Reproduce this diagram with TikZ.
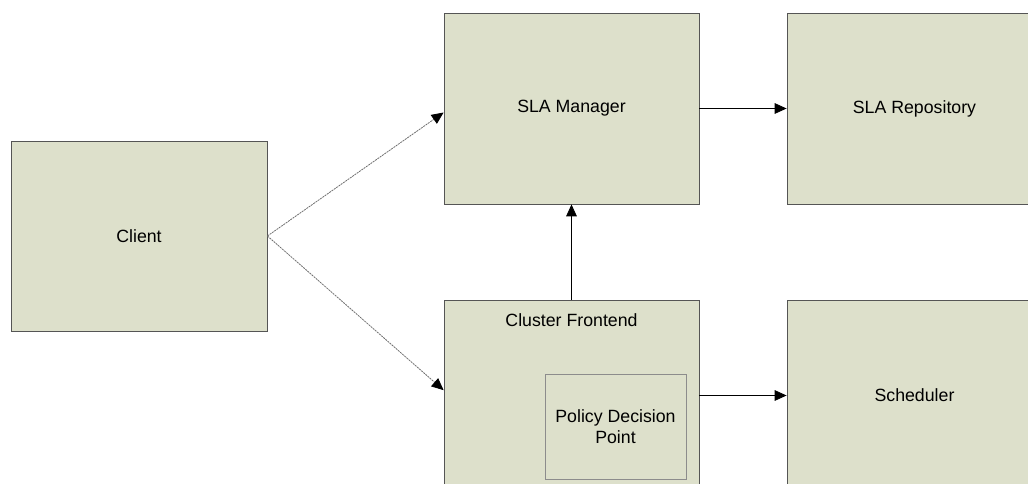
\documentclass[tikz,border=0pt]{standalone}
\usepackage{fontspec}
\setmainfont{Liberation Sans}
\usetikzlibrary{arrows.meta}
\definecolor{boxfill}{RGB}{221, 224, 203}
\definecolor{boxline}{RGB}{85, 85, 85}
\definecolor{linkgray}{RGB}{110, 110, 110}

\begin{document}
\begin{tikzpicture}[x=0.75pt, y=-0.75pt,
    block/.style={draw=boxline, fill=boxfill, line width=0.6pt, inner sep=0pt,
        font=\fontsize{13.3}{16}\selectfont},
    flow/.style={-{Triangle[length=9pt, width=8pt]}, line width=0.6pt},
    request/.style={-{Triangle[length=9pt, width=8pt, color=black]}, line width=0.6pt,
        draw=linkgray, dash pattern=on 1.5pt off 0.6pt}]
    \useasboundingbox (0,0) rectangle (1028,484);
    \clip (0,0) rectangle (1028,484);

    % Client
    \node[block, minimum width=192pt, minimum height=142.5pt] (client) at (139,236) {Client};

    % SLA Manager / SLA Repository
    \node[block, minimum width=191.25pt, minimum height=143.25pt] (manager) at (571.5,108.5) {SLA Manager};
    \node[block, minimum width=191.25pt, minimum height=143.25pt] (repo) at (914.5,108.5) {SLA Repository};

    % Cluster Frontend
    \node[block, minimum width=191.25pt, minimum height=143.25pt] (cluster) at (571.5,395.5) {};
    \node[anchor=north, font=\fontsize{13.3}{16}\selectfont] (clustertitle) at ([yshift=-7pt]cluster.north) {Cluster Frontend};
    \node[block, draw=black!45, align=center, minimum width=105.75pt, minimum height=78.75pt] (pdp) at (615.5,426.5) {Policy Decision\\Point};

    % Scheduler
    \node[block, minimum width=191.25pt, minimum height=143.25pt] (sched) at (914.5,395.5) {Scheduler};

    % Frecce
    \draw[request] (client.east) -- ([yshift=-3pt]manager.west);
    \draw[request] (client.east) -- ([yshift=4pt]cluster.west);
    \draw[flow] (manager.east) -- (repo.west);
    \draw[flow] (cluster.north) -- (manager.south);
    \draw[flow] (cluster.east) -- (sched.west);
\end{tikzpicture}
\end{document}
